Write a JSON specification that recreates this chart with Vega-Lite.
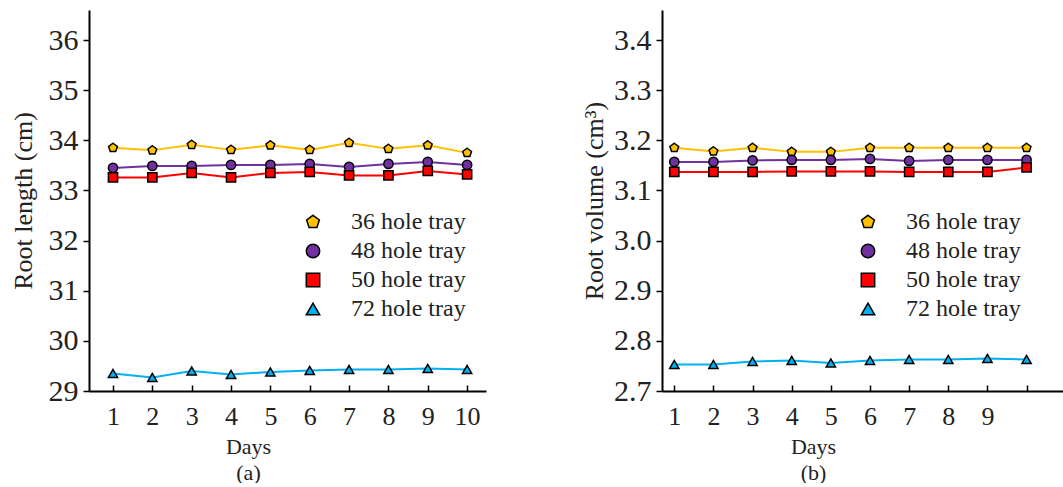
{
  "$schema": "https://vega.github.io/schema/vega-lite/v6.json",
  "padding": {"left": 10, "top": 10, "right": 0, "bottom": 0},
  "background": "white",
  "spacing": 95,
  "config": {
    "font": "Liberation Serif",
    "view": {"stroke": null},
    "axis": {"grid": false, "domainColor": "black", "domainWidth": 2, "tickColor": "black", "tickWidth": 1.5, "labelColor": "#222", "titleColor": "#222", "labelFont": "Liberation Serif", "titleFont": "Liberation Serif", "titleFontWeight": "normal", "labelFlush": false},
    "legend": {"orient": "none", "title": null, "labelFont": "Liberation Serif", "labelFontSize": 24, "labelColor": "#222", "symbolSize": 180, "rowPadding": 5, "labelOffset": 26, "symbolStrokeWidth": 1.5}
  },
  "datasets": {
    "d": [
      {"day": 1, "tray": "36 hole tray", "length": 33.85, "volume": 3.185},
      {"day": 2, "tray": "36 hole tray", "length": 33.80, "volume": 3.178},
      {"day": 3, "tray": "36 hole tray", "length": 33.91, "volume": 3.185},
      {"day": 4, "tray": "36 hole tray", "length": 33.81, "volume": 3.177},
      {"day": 5, "tray": "36 hole tray", "length": 33.90, "volume": 3.177},
      {"day": 6, "tray": "36 hole tray", "length": 33.81, "volume": 3.185},
      {"day": 7, "tray": "36 hole tray", "length": 33.95, "volume": 3.185},
      {"day": 8, "tray": "36 hole tray", "length": 33.83, "volume": 3.185},
      {"day": 9, "tray": "36 hole tray", "length": 33.90, "volume": 3.185},
      {"day": 10, "tray": "36 hole tray", "length": 33.75, "volume": 3.185},
      {"day": 1, "tray": "48 hole tray", "length": 33.45, "volume": 3.157},
      {"day": 2, "tray": "48 hole tray", "length": 33.49, "volume": 3.157},
      {"day": 3, "tray": "48 hole tray", "length": 33.49, "volume": 3.160},
      {"day": 4, "tray": "48 hole tray", "length": 33.51, "volume": 3.161},
      {"day": 5, "tray": "48 hole tray", "length": 33.51, "volume": 3.161},
      {"day": 6, "tray": "48 hole tray", "length": 33.53, "volume": 3.163},
      {"day": 7, "tray": "48 hole tray", "length": 33.47, "volume": 3.159},
      {"day": 8, "tray": "48 hole tray", "length": 33.53, "volume": 3.161},
      {"day": 9, "tray": "48 hole tray", "length": 33.57, "volume": 3.161},
      {"day": 10, "tray": "48 hole tray", "length": 33.51, "volume": 3.161},
      {"day": 1, "tray": "50 hole tray", "length": 33.26, "volume": 3.137},
      {"day": 2, "tray": "50 hole tray", "length": 33.26, "volume": 3.137},
      {"day": 3, "tray": "50 hole tray", "length": 33.35, "volume": 3.137},
      {"day": 4, "tray": "50 hole tray", "length": 33.26, "volume": 3.138},
      {"day": 5, "tray": "50 hole tray", "length": 33.35, "volume": 3.138},
      {"day": 6, "tray": "50 hole tray", "length": 33.37, "volume": 3.138},
      {"day": 7, "tray": "50 hole tray", "length": 33.30, "volume": 3.137},
      {"day": 8, "tray": "50 hole tray", "length": 33.30, "volume": 3.137},
      {"day": 9, "tray": "50 hole tray", "length": 33.39, "volume": 3.137},
      {"day": 10, "tray": "50 hole tray", "length": 33.32, "volume": 3.146},
      {"day": 1, "tray": "72 hole tray", "length": 29.35, "volume": 2.753},
      {"day": 2, "tray": "72 hole tray", "length": 29.27, "volume": 2.753},
      {"day": 3, "tray": "72 hole tray", "length": 29.40, "volume": 2.759},
      {"day": 4, "tray": "72 hole tray", "length": 29.33, "volume": 2.761},
      {"day": 5, "tray": "72 hole tray", "length": 29.38, "volume": 2.756},
      {"day": 6, "tray": "72 hole tray", "length": 29.41, "volume": 2.761},
      {"day": 7, "tray": "72 hole tray", "length": 29.43, "volume": 2.763},
      {"day": 8, "tray": "72 hole tray", "length": 29.43, "volume": 2.763},
      {"day": 9, "tray": "72 hole tray", "length": 29.45, "volume": 2.765},
      {"day": 10, "tray": "72 hole tray", "length": 29.43, "volume": 2.763}
    ]
  },
  "resolve": {"legend": {"color": "independent", "shape": "independent"}},
  "hconcat": [
    {
      "width": 397,
      "height": 381,
      "data": {"name": "d"},
      "encoding": {
        "x": {"field": "day", "type": "quantitative", "scale": {"domain": [0.39, 10.48], "nice": false, "zero": false},
          "axis": {"values": [1, 2, 3, 4, 5, 6, 7, 8, 9, 10], "tickSize": -6, "labelPadding": 18, "labelFontSize": 26, "title": ["Days", "(a)"], "titleFontSize": 22, "titleLineHeight": 26, "titleX": 159, "titlePadding": 7}},
        "y": {"field": "length", "type": "quantitative", "scale": {"domain": [29, 36.6], "nice": false, "zero": false},
          "axis": {"values": [29, 30, 31, 32, 33, 34, 35, 36], "tickSize": 6, "labelPadding": 5, "labelFontSize": 30, "title": "Root length (cm)", "titleFontSize": 26, "titlePadding": 12}}
      },
      "layer": [
        {"mark": {"type": "line", "strokeWidth": 2},
          "encoding": {"stroke": {"field": "tray", "type": "nominal", "scale": {"domain": ["36 hole tray", "48 hole tray", "50 hole tray", "72 hole tray"], "range": ["#FFC000", "#7030A0", "#FF0000", "#00B0F0"]}, "legend": null}}},
        {"mark": {"type": "point", "filled": true, "size": 85, "stroke": "black", "strokeWidth": 1.5, "opacity": 1},
          "encoding": {
            "color": {"field": "tray", "type": "nominal", "scale": {"domain": ["36 hole tray", "48 hole tray", "50 hole tray", "72 hole tray"], "range": ["#FFC000", "#7030A0", "#FF0000", "#00B0F0"]},
              "legend": {"legendX": 212, "legendY": 200}},
            "shape": {"field": "tray", "type": "nominal", "scale": {"domain": ["36 hole tray", "48 hole tray", "50 hole tray", "72 hole tray"], "range": ["M0,-1L0.951,-0.309L0.588,0.809L-0.588,0.809L-0.951,-0.309Z", "circle", "square", "triangle-up"]},
              "legend": {"legendX": 212, "legendY": 200}}
          }}
      ]
    },
    {
      "width": 401,
      "height": 381,
      "data": {"name": "d"},
      "encoding": {
        "x": {"field": "day", "type": "quantitative", "scale": {"domain": [0.686, 10.93], "nice": false, "zero": false},
          "axis": {"values": [1, 2, 3, 4, 5, 6, 7, 8, 9, 10], "labelExpr": "datum.value == 10 ? '' : datum.label", "tickSize": -6, "labelPadding": 18, "labelFontSize": 26, "title": ["Days", "(b)"], "titleFontSize": 22, "titleLineHeight": 26, "titleX": 151, "titlePadding": 7}},
        "y": {"field": "volume", "type": "quantitative", "scale": {"domain": [2.7, 3.46], "nice": false, "zero": false},
          "axis": {"values": [2.7, 2.8, 2.9, 3.0, 3.1, 3.2, 3.3, 3.4], "format": ".1f", "tickSize": 6, "labelPadding": 5, "labelFontSize": 30, "title": "Root volume (cm³)", "titleFontSize": 26, "titlePadding": 6}}
      },
      "layer": [
        {"mark": {"type": "line", "strokeWidth": 2},
          "encoding": {"stroke": {"field": "tray", "type": "nominal", "scale": {"domain": ["36 hole tray", "48 hole tray", "50 hole tray", "72 hole tray"], "range": ["#FFC000", "#7030A0", "#FF0000", "#00B0F0"]}, "legend": null}}},
        {"mark": {"type": "point", "filled": true, "size": 85, "stroke": "black", "strokeWidth": 1.5, "opacity": 1},
          "encoding": {
            "color": {"field": "tray", "type": "nominal", "scale": {"domain": ["36 hole tray", "48 hole tray", "50 hole tray", "72 hole tray"], "range": ["#FFC000", "#7030A0", "#FF0000", "#00B0F0"]},
              "legend": {"legendX": 194, "legendY": 200}},
            "shape": {"field": "tray", "type": "nominal", "scale": {"domain": ["36 hole tray", "48 hole tray", "50 hole tray", "72 hole tray"], "range": ["M0,-1L0.951,-0.309L0.588,0.809L-0.588,0.809L-0.951,-0.309Z", "circle", "square", "triangle-up"]},
              "legend": {"legendX": 194, "legendY": 200}}
          }}
      ]
    }
  ]
}
